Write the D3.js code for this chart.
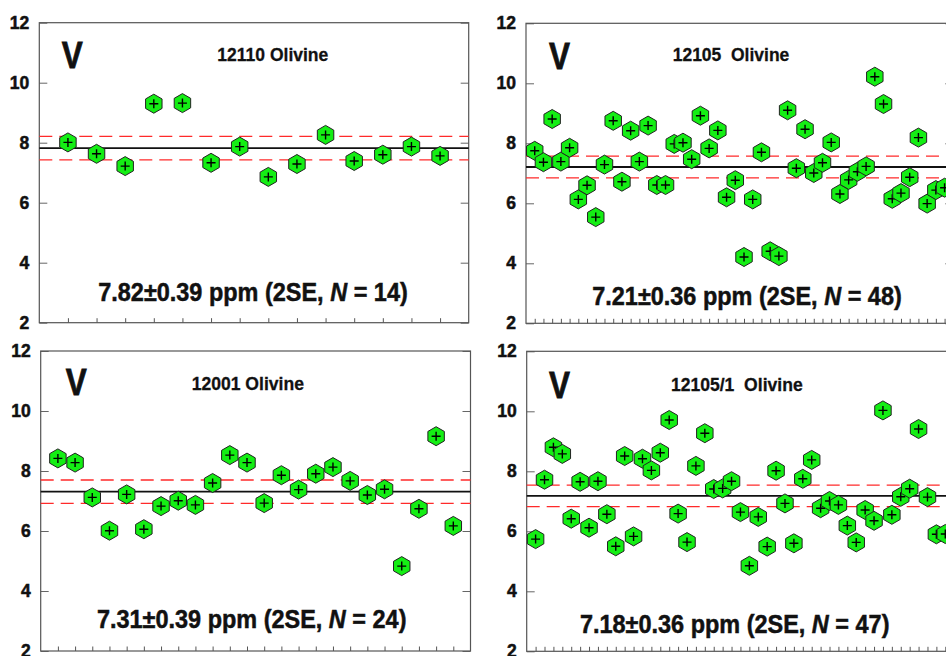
<!DOCTYPE html>
<html>
<head>
<meta charset="utf-8">
<script src="https://cdn.jsdelivr.net/npm/d3@7"></script>
<style>
  body { margin: 0; background: #fff; }
  svg { display: block; }
  text { font-family: "Liberation Sans", Arial, sans-serif; font-weight: bold; fill: #111; white-space: pre; }
</style>
</head>
<body>
<svg id="chart" width="946" height="656"></svg>
<script>
// V concentrations (ppm) in olivine, one value per analysis spot
const element = "V";
const sampleNames = ["12110 Olivine", "12105  Olivine", "12001 Olivine", "12105/1  Olivine"];

const values12110 = [8.01, 7.63, 7.22, 9.30, 9.32, 7.33, 7.87, 6.86, 7.29, 8.26, 7.39, 7.60, 7.87, 7.56];

const values12105 = [7.75, 7.37, 8.81, 7.39, 7.85, 6.13, 6.60, 5.54, 7.29, 8.75,
                     6.72, 8.42, 7.39, 8.59, 6.61, 6.61, 7.98, 8.02, 7.47, 8.92,
                     7.83, 8.43, 6.20, 6.77, 4.21, 6.13, 7.70, 4.40, 4.24, 9.10,
                     7.17, 8.47, 7.01, 7.35, 8.03, 6.31, 6.78, 7.05, 7.23, 10.22,
                     9.31, 6.15, 6.34, 6.87, 8.19, 5.99, 6.44, 6.52];

const values12001 = [8.42, 8.28, 7.12, 6.01, 7.22, 6.06, 6.83, 7.01, 6.87, 7.60,
                     8.53, 8.28, 6.93, 7.86, 7.38, 7.91, 8.13, 7.67, 7.20, 7.39,
                     4.83, 6.74, 9.16, 6.17];

const values12105_1 = [5.74, 7.72, 8.80, 8.58, 6.42, 7.65, 6.12, 7.67, 6.57, 5.50,
                       8.51, 5.83, 8.42, 8.03, 8.62, 9.71, 6.59, 5.64, 8.18, 9.27,
                       7.41, 7.43, 7.67, 6.64, 4.85, 6.48, 5.49, 8.02, 6.93, 5.60,
                       7.75, 8.38, 6.77, 7.01, 6.88, 6.19, 5.63, 6.71, 6.35, 10.03,
                       6.55, 7.15, 7.42, 9.41, 7.14, 5.90, 5.91];

const means = [7.82, 7.21, 7.31, 7.18];
const twoSE = [0.39, 0.36, 0.39, 0.36];
const yTicks = [2, 4, 6, 8, 10, 12];
const yDomain = [2, 12];

const seriesValues = [values12110, values12105, values12001, values12105_1];

// Panel geometry and label placement
const panels = [
  { left: 39.3,  top: 22.7,  width: 429.4, height: 300, titleX: 272.8, titleY: 61,    titleW: 111,   vX: 61.7, vY: 68.3,  statX: 253,   statY: 300.7 },
  { left: 526,   top: 23.3,  width: 427.3, height: 300, titleX: 731,   titleY: 60.7,  titleW: 116.6, vX: 549,  vY: 69.3,  statX: 747,   statY: 304.5 },
  { left: 40.7,  top: 351,   width: 429.8, height: 300, titleX: 247.8, titleY: 390,   titleW: 112.3, vX: 65.7, vY: 395,   statX: 251.7, statY: 628.3 },
  { left: 526.7, top: 351.3, width: 427.5, height: 300, titleX: 736.8, titleY: 390.7, titleW: 131.7, vX: 549,  vY: 398.3, statX: 734.7, statY: 633.3 }
];

const svg = d3.select("#chart");

// pointy-top hexagon marker
function hexPath(r) {
  const p = d3.path();
  for (let k = 0; k < 6; k++) {
    const a = -Math.PI / 2 + k * Math.PI / 3;
    const px = r * Math.cos(a), py = r * Math.sin(a);
    if (k === 0) p.moveTo(px, py); else p.lineTo(px, py);
  }
  p.closePath();
  return p.toString();
}

panels.forEach((pn, idx) => {
  const vals = seriesValues[idx];
  const n = vals.length;
  const g = svg.append("g");

  const x = d3.scaleLinear().domain([0, n + 1]).range([pn.left, pn.left + pn.width]);
  const y = d3.scaleLinear().domain(yDomain).range([pn.top + pn.height, pn.top]);
  const idxs = d3.range(1, n + 1);

  // left axis with labels, inward ticks
  const yAxisL = d3.axisLeft(y).tickValues(yTicks).tickSize(-8).tickPadding(10).tickFormat(d3.format("d"));
  const gyl = g.append("g").attr("transform", `translate(${pn.left},0)`).call(yAxisL);
  gyl.select(".domain").remove();
  gyl.selectAll(".tick line").attr("stroke", "#666").attr("stroke-width", 1);
  gyl.selectAll(".tick text").attr("font-size", 17.5).attr("fill", "#111")
     .attr("stroke", "#111").attr("stroke-width", 0.5)
     .style("font-family", "'Liberation Sans', Arial, sans-serif").style("font-weight", "bold");

  // right axis, inward ticks only
  const yAxisR = d3.axisRight(y).tickValues(yTicks).tickSize(-8).tickFormat("");
  const gyr = g.append("g").attr("transform", `translate(${pn.left + pn.width},0)`).call(yAxisR);
  gyr.select(".domain").remove();
  gyr.selectAll(".tick line").attr("stroke", "#666").attr("stroke-width", 1);

  // bottom axis, one inward tick per analysis
  const xAxis = d3.axisBottom(x).tickValues(idxs).tickSize(-4.5).tickFormat("");
  const gx = g.append("g").attr("transform", `translate(0,${pn.top + pn.height})`).call(xAxis);
  gx.select(".domain").remove();
  gx.selectAll(".tick line").attr("stroke", "#555").attr("stroke-width", 1);

  // frame
  g.append("rect")
    .attr("x", pn.left).attr("y", pn.top)
    .attr("width", pn.width).attr("height", pn.height)
    .attr("fill", "none").attr("stroke", "#555").attr("stroke-width", 1.2);

  // mean and 2SE band
  const m = means[idx], se = twoSE[idx];
  [m + se, m - se].forEach(v => {
    g.append("line")
      .attr("x1", pn.left).attr("x2", pn.left + pn.width)
      .attr("y1", y(v)).attr("y2", y(v))
      .attr("stroke", "#ff2a2a").attr("stroke-width", 1.3)
      .attr("stroke-dasharray", "13,7");
  });
  g.append("line")
    .attr("x1", pn.left).attr("x2", pn.left + pn.width)
    .attr("y1", y(m)).attr("y2", y(m))
    .attr("stroke", "#111").attr("stroke-width", 1.8);

  // data markers
  const hex = hexPath(9.5);
  const pts = g.append("g").selectAll("g.pt").data(vals).join("g")
    .attr("class", "pt")
    .attr("transform", (d, i) => `translate(${x(i + 1)},${y(d)})`);
  pts.append("path").attr("d", hex)
    .attr("fill", "#14ee14").attr("stroke", "#222").attr("stroke-width", 1);
  pts.append("path").attr("d", "M-4.5,0H4.5M0,-4.5V4.5")
    .attr("stroke", "#000").attr("stroke-width", 1.4).attr("fill", "none");

  // element symbol
  g.append("text")
    .attr("x", pn.vX).attr("y", pn.vY)
    .attr("font-size", 37)
    .attr("stroke", "#111").attr("stroke-width", 0.8)
    .attr("textLength", 21).attr("lengthAdjust", "spacingAndGlyphs")
    .text(element);

  // sample name
  g.append("text")
    .attr("x", pn.titleX).attr("y", pn.titleY)
    .attr("text-anchor", "middle")
    .attr("font-size", 18.5)
    .attr("stroke", "#111").attr("stroke-width", 0.3)
    .attr("textLength", pn.titleW).attr("lengthAdjust", "spacingAndGlyphs")
    .text(sampleNames[idx]);

  // mean ± 2SE summary, set slightly condensed
  const st = g.append("text")
    .attr("transform", `translate(${pn.statX},${pn.statY}) scale(0.92,1)`)
    .attr("text-anchor", "middle")
    .attr("font-size", 25.5)
    .attr("stroke", "#111").attr("stroke-width", 0.5);
  st.append("tspan").text(`${m.toFixed(2)}\u00b1${se.toFixed(2)} ppm (2SE, `);
  st.append("tspan").attr("font-style", "italic").text("N");
  st.append("tspan").text(` = ${n})`);
});
</script>
</body>
</html>
